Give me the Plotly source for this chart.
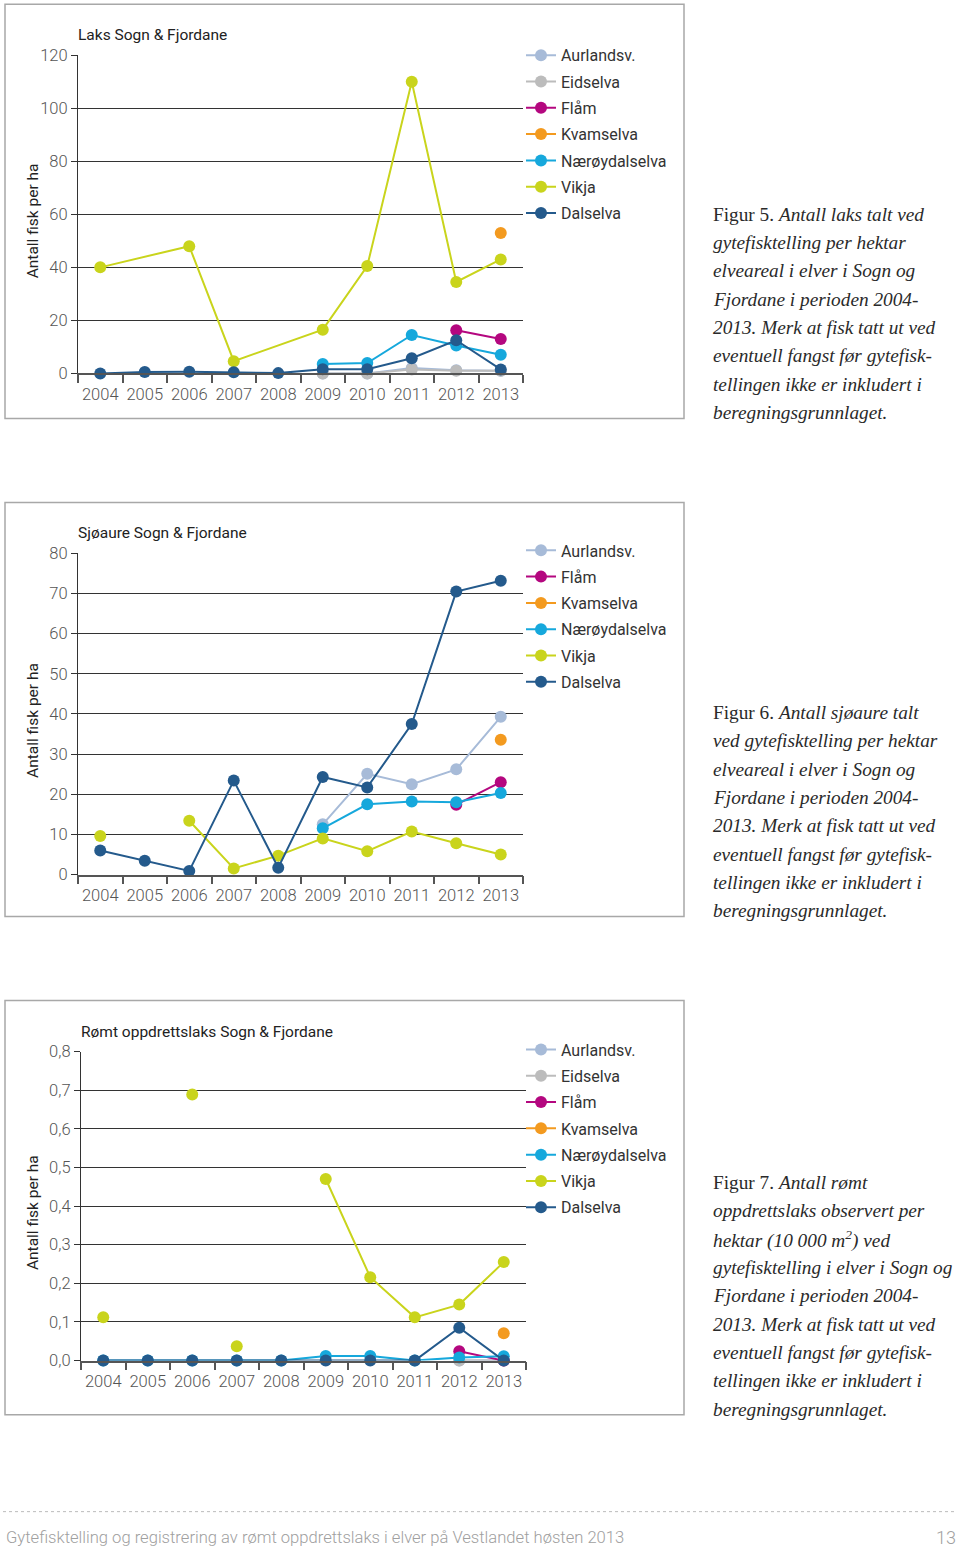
import plotly.graph_objects as go

years = ["2004", "2005", "2006", "2007", "2008", "2009", "2010", "2011", "2012", "2013"]
rivers = ["Aurlandsv.", "Eidselva", "Flåm", "Kvamselva", "Nærøydalselva", "Vikja", "Dalselva"]
colors = {
    "Aurlandsv.": "#a7bbd8",
    "Eidselva": "#bcbcbc",
    "Flåm": "#b4077f",
    "Kvamselva": "#f39a1f",
    "Nærøydalselva": "#16a8dc",
    "Vikja": "#c9d41c",
    "Dalselva": "#245a8c",
}
N = None

# Figur 5: Laks
laks = {
    "Aurlandsv.":    [N, N, N, N, N, 0.0, 0.0, 2.0, 1.2, 1.0],
    "Eidselva":      [N, N, N, N, N, 0.0, 0.0, 1.5, 1.0, 1.0],
    "Flåm":          [N, N, N, N, N, N, N, N, 16.3, 13.0],
    "Kvamselva":     [N, N, N, N, N, N, N, N, N, 53.0],
    "Nærøydalselva": [N, N, N, N, N, 3.5, 3.9, 14.5, 10.5, 7.0],
    "Vikja":         [40.0, N, 48.0, 4.6, N, 16.5, 40.5, 110.0, 34.5, 43.0],
    "Dalselva":      [0.0, 0.5, 0.6, 0.4, 0.1, 1.6, 1.6, 5.7, 12.5, 1.5],
}
# Figur 6: Sjøaure
sjoaure = {
    "Aurlandsv.":    [N, N, N, N, N, 12.5, 25.1, 22.5, 26.2, 39.3],
    "Flåm":          [N, N, N, N, N, N, N, N, 17.4, 23.0],
    "Kvamselva":     [N, N, N, N, N, N, N, N, N, 33.6],
    "Nærøydalselva": [N, N, N, N, N, 11.5, 17.5, 18.2, 18.0, 20.3],
    "Vikja":         [9.6, N, 13.4, 1.5, 4.7, 9.0, 5.8, 10.7, 7.8, 5.0],
    "Dalselva":      [6.0, 3.4, 0.9, 23.4, 1.7, 24.3, 21.7, 37.5, 70.5, 73.2],
}
# Figur 7: Rømt oppdrettslaks
romt = {
    "Aurlandsv.":    [N, N, N, N, N, N, N, N, 0.0, 0.0],
    "Eidselva":      [N, N, N, N, N, N, N, N, 0.0, 0.0],
    "Flåm":          [N, N, N, N, N, N, N, N, 0.024, 0.0],
    "Kvamselva":     [N, N, N, N, N, N, N, N, N, 0.071],
    "Nærøydalselva": [0.0, 0.0, 0.0, 0.0, 0.0, 0.012, 0.012, 0.0, 0.008, 0.011],
    "Vikja":         [0.112, N, 0.689, 0.037, N, 0.47, 0.216, 0.112, 0.145, 0.255],
    "Dalselva":      [0.0, 0.0, 0.0, 0.0, 0.0, 0.0, 0.0, 0.0, 0.085, 0.0],
}
# line not drawn between these consecutive year pairs (start year index)
romt_breaks = {"Vikja": [2]}

titles = ["Laks Sogn & Fjordane", "Sjøaure Sogn & Fjordane", "Rømt oppdrettslaks Sogn & Fjordane"]
ytitle = "Antall fisk per ha"
captions = [
    ["Figur 5. <i>Antall laks talt ved</i>",
     "<i>gytefisktelling per hektar</i>",
     "<i>elveareal i elver i Sogn og</i>",
     "<i>Fjordane i perioden 2004-</i>",
     "<i>2013. Merk at fisk tatt ut ved</i>",
     "<i>eventuell fangst før gytefisk-</i>",
     "<i>tellingen ikke er inkludert i</i>",
     "<i>beregningsgrunnlaget.</i>"],
    ["Figur 6. <i>Antall sjøaure talt</i>",
     "<i>ved gytefisktelling per hektar</i>",
     "<i>elveareal i elver i Sogn og</i>",
     "<i>Fjordane i perioden 2004-</i>",
     "<i>2013. Merk at fisk tatt ut ved</i>",
     "<i>eventuell fangst før gytefisk-</i>",
     "<i>tellingen ikke er inkludert i</i>",
     "<i>beregningsgrunnlaget.</i>"],
    ["Figur 7. <i>Antall rømt</i>",
     "<i>oppdrettslaks observert per</i>",
     "<i>hektar (10 000 m<sup>2</sup>) ved</i>",
     "<i>gytefisktelling i elver i Sogn og</i>",
     "<i>Fjordane i perioden 2004-</i>",
     "<i>2013. Merk at fisk tatt ut ved</i>",
     "<i>eventuell fangst før gytefisk-</i>",
     "<i>tellingen ikke er inkludert i</i>",
     "<i>beregningsgrunnlaget.</i>"],
]
caption_top = [214, 712, 1182]
footer_text = "Gytefisktelling og registrering av rømt oppdrettslaks i elver på Vestlandet høsten 2013"
page_no = "13"

W, H = 960, 1549
SANS = "Roboto"
SERIF = "Liberation Serif"
# the photographed page came out ~20 px taller than the figure; compensate
OFF, SC = 8.7, 0.9875


def px(x):
    return x / W


def py(y):
    return 1 - ((y - OFF) / SC) / H


fig = go.Figure()

# panel geometry (pixels in the reference)
panels = [
    dict(box=(5, 4, 684, 418), x0=78, x1=523, ytop=55, ybot=373, yr=[0, 120], dt=20, fmt="d",
         data=laks, connect=True, breaks={}, leg=38),
    dict(box=(5, 502, 684, 916), x0=78, x1=523, ytop=553, ybot=874, yr=[0, 80], dt=10, fmt="d",
         data=sjoaure, connect=False, breaks={}, leg=533),
    dict(box=(5, 1000, 684, 1414), x0=81, x1=526, ytop=1051, ybot=1360, yr=[0, 0.8], dt=0.1, fmt=".1f",
         data=romt, connect=False, breaks=romt_breaks, leg=1032),
]

for i, p in enumerate(panels, start=1):
    xa = "x" if i == 1 else f"x{i}"
    ya = "y" if i == 1 else f"y{i}"
    lg = "legend" if i == 1 else f"legend{i}"
    for r in rivers:
        if r not in p["data"]:
            continue
        vals = p["data"][r]
        xs, ys = [], []
        brk = p["breaks"].get(r, [])
        for k, (yr_, v) in enumerate(zip(years, vals)):
            if p["connect"] and v is None:
                continue
            xs.append(yr_)
            ys.append(v)
            if k in brk:
                xs.append(yr_)
                ys.append(None)
        fig.add_trace(go.Scatter(
            x=xs, y=ys, name=r, mode="lines+markers",
            line=dict(color=colors[r], width=2),
            marker=dict(color=colors[r], size=12),
            connectgaps=False, cliponaxis=False,
            xaxis=xa, yaxis=ya, legend=lg, legendgroup=f"{i}{r}",
            showlegend=True,
        ))
    axis_suffix = "" if i == 1 else str(i)
    fig.update_layout(**{
        f"xaxis{axis_suffix}": dict(
            domain=[px(p["x0"]), px(p["x1"])], anchor=ya,
            type="category", categoryorder="array", categoryarray=years,
            range=[-0.5, 9.5], showgrid=False, zeroline=False,
            showline=True, linecolor="#555", linewidth=1.5,
            ticks="outside", tickson="boundaries", ticklen=8, tickcolor="#555", tickwidth=1.5,
            tickangle=0, ticklabelstandoff=5,
            tickfont=dict(family=SANS, size=16.5, color="#555", weight=300), fixedrange=True,
        ),
        f"yaxis{axis_suffix}": dict(
            domain=[py(p["ybot"]), py(p["ytop"])], anchor=xa,
            range=p["yr"], dtick=p["dt"], tick0=0, tickformat=p["fmt"],
            showgrid=True, gridcolor="#333", gridwidth=1, zeroline=False,
            showline=True, linecolor="#333", linewidth=1.2,
            ticks="outside", ticklen=6, tickcolor="#333",
            tickfont=dict(family=SANS, size=16.5, color="#555", weight=300), fixedrange=True,
        ),
        lg: dict(
            x=px(521), y=py(p["leg"]), xanchor="left", yanchor="top",
            bgcolor="rgba(0,0,0,0)", borderwidth=0, traceorder="grouped",
            tracegroupgap=2.5, font=dict(family=SANS, size=16, color="#333"),
            itemclick=False, itemdoubleclick=False,
        ),
    })
    # panel border
    bx0, by0, bx1, by1 = p["box"]
    fig.add_shape(type="rect", xref="paper", yref="paper",
                  x0=px(bx0), x1=px(bx1), y0=py(by1), y1=py(by0),
                  line=dict(color="#a8a8a8", width=1.5), fillcolor="rgba(0,0,0,0)", layer="below")
    # chart title
    fig.add_annotation(text=titles[i - 1], xref="paper", yref="paper",
                       x=px(p["x0"] - 2), y=py(p["ytop"] - 20), xanchor="left", yanchor="middle",
                       showarrow=False, font=dict(family=SANS, size=15.5, color="#222"))
    # y-axis title
    fig.add_annotation(text=ytitle, xref="paper", yref="paper",
                       x=px(33), y=py((p["ytop"] + p["ybot"]) / 2 + 7), xanchor="center", yanchor="middle",
                       textangle=-90, showarrow=False, font=dict(family=SANS, size=15.5, color="#222"))
    # caption
    for j, line in enumerate(captions[i - 1]):
        fig.add_annotation(text=line, xref="paper", yref="paper",
                           x=px(711), y=py(caption_top[i - 1] + j * 28.3), xanchor="left", yanchor="middle",
                           showarrow=False, font=dict(family=SERIF, size=19.3, color="#2a2a2a"))

# footer
fig.add_shape(type="line", xref="paper", yref="paper", x0=px(3), x1=px(957), y0=py(1511), y1=py(1511),
              line=dict(color="#bbbbbb", width=1, dash="dot"))
fig.add_annotation(text=footer_text, xref="paper", yref="paper", x=px(4), y=py(1537),
                   xanchor="left", yanchor="middle", showarrow=False,
                   font=dict(family=SANS, size=16.6, color="#a0a0a0", weight=300))
fig.add_annotation(text=page_no, xref="paper", yref="paper", x=px(958), y=py(1537),
                   xanchor="right", yanchor="middle", showarrow=False,
                   font=dict(family=SANS, size=18, color="#a0a0a0", weight=300))

fig.update_layout(
    width=W, height=H, margin=dict(l=0, r=0, t=0, b=0),
    paper_bgcolor="white", plot_bgcolor="white",
    separators=", ", hovermode=False,
)

fig.write_html("out.html", config={"displayModeBar": False},
               post_script="document.body.style.margin='0';document.body.style.overflow='hidden';")
